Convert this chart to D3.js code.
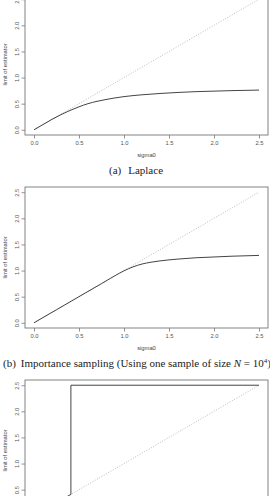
<!DOCTYPE html>
<html>
<head>
<meta charset="utf-8">
<script src="https://cdn.jsdelivr.net/npm/d3@7"></script>
<style>
body{margin:0;background:#fff;}
svg{display:block;}
.tick-label{font-family:"Liberation Sans",Arial,sans-serif;font-size:5.8px;fill:#555;}
.axis-title{font-family:"Liberation Sans",Arial,sans-serif;font-size:5.8px;fill:#444;}
.caption{font-family:"Liberation Serif","DejaVu Serif",serif;font-size:11px;fill:#222;}
</style>
</head>
<body>
<svg id="figure"></svg>
<script>
// ---- data ----
var xTicks=[0,0.5,1,1.5,2,2.5]
var yTicks=[0,0.5,1,1.5,2,2.5]
var diagX=[0,2.5]
var diagY=[0,2.5]

// (a) Laplace
var laplaceX=[0,0.1,0.2,0.3,0.4,0.5,0.6,0.7,0.8,0.9,1.0,1.2,1.4,1.6,1.8,2.0,2.2,2.5]
var laplaceY=[0,0.1,0.2,0.29,0.37,0.44,0.5,0.545,0.58,0.61,0.635,0.67,0.695,0.715,0.73,0.74,0.75,0.76]

// (b) importance sampling
var isX=[0,0.25,0.5,0.75,0.95,1.0,1.05,1.1,1.2,1.3,1.4,1.6,1.8,2.0,2.2,2.5]
var isY=[0,0.25,0.5,0.75,0.95,0.995,1.035,1.07,1.125,1.16,1.185,1.22,1.245,1.26,1.275,1.29]

// (c) third estimator (jumps up)
var stepX=[0,0.41,0.41,2.5]
var stepY=[0,0.41,2.5,2.5]

var captionA=["(a)","Laplace"]
var captionB="Importance sampling (Using one sample of size "

// ---- layout ----
var screen={width:270,height:496}
var box={left:25,width:243,height:141}
var panelTops=[-6,187,380]

var svg=d3.select("#figure")
    .attr("width",screen.width)
    .attr("height",screen.height)

var xScale=d3.scaleLinear()
    .domain([-0.1,2.6])
    .range([0,box.width])
var yScale=d3.scaleLinear()
    .domain([-0.1,2.6])
    .range([box.height,0])

var toPairs=function(xs,ys){
    return xs.map(function(x,i){return [x,ys[i]]})
}

var drawPanel=function(top,curve,curveType){
    var g=svg.append("g")
        .attr("transform","translate("+box.left+","+top+")")

    // frame
    g.append("rect")
        .attr("x",0).attr("y",0)
        .attr("width",box.width).attr("height",box.height)
        .attr("fill","none")
        .attr("stroke","#777")
        .attr("stroke-width",0.9)

    // axes: ticks only, labels styled like R
    var xAxis=d3.axisBottom(xScale)
        .tickValues(xTicks)
        .tickSize(3.5)
        .tickPadding(2.5)
        .tickFormat(d3.format(".1f"))
    var ax=g.append("g")
        .attr("transform","translate(0,"+box.height+")")
        .call(xAxis)
    ax.select(".domain").remove()
    ax.selectAll("line").attr("stroke","#777").attr("stroke-width",0.8)
    ax.selectAll("text").attr("class","tick-label").attr("font-size",null).attr("font-family",null).attr("fill",null)

    var yAxis=d3.axisLeft(yScale)
        .tickValues(yTicks)
        .tickSize(3.5)
        .tickFormat(d3.format(".1f"))
    var ay=g.append("g").call(yAxis)
    ay.select(".domain").remove()
    ay.selectAll("line").attr("stroke","#777").attr("stroke-width",0.8)
    ay.selectAll("text")
        .attr("class","tick-label")
        .attr("font-size",null).attr("font-family",null).attr("fill",null)
        .attr("x",null).attr("dy",null)
        .attr("text-anchor","middle")
        .attr("transform","translate(-6.5,0) rotate(-90)")

    // titles
    g.append("text")
        .attr("class","axis-title")
        .attr("text-anchor","middle")
        .attr("x",xScale(1.25))
        .attr("y",box.height+22)
        .text("sigma0")
    g.append("text")
        .attr("class","axis-title")
        .attr("text-anchor","middle")
        .attr("transform","translate(-18,"+(box.height/2)+") rotate(-90)")
        .text("limit of estimator")

    // reference diagonal
    var straight=d3.line()
        .x(function(d){return xScale(d[0])})
        .y(function(d){return yScale(d[1])})
    g.append("path")
        .datum(toPairs(diagX,diagY))
        .attr("d",straight)
        .attr("fill","none")
        .attr("stroke","#aaa")
        .attr("stroke-width",0.8)
        .attr("stroke-dasharray","1,1.6")

    // estimator
    var gen=d3.line()
        .x(function(d){return xScale(d[0])})
        .y(function(d){return yScale(d[1])})
        .curve(curveType=="smooth" ? d3.curveMonotoneX : d3.curveLinear)
    g.append("path")
        .datum(curve)
        .attr("d",gen)
        .attr("fill","none")
        .attr("stroke","#3a3a3a")
        .attr("stroke-width",0.95)
}

drawPanel(panelTops[0],toPairs(laplaceX,laplaceY),"smooth")
drawPanel(panelTops[1],toPairs(isX,isY),"smooth")
drawPanel(panelTops[2],toPairs(stepX,stepY),"step")

// captions
var capA=svg.append("text")
    .attr("class","caption")
    .attr("text-anchor","middle")
    .attr("x",136)
    .attr("y",panelTops[0]+box.height+39)
capA.append("tspan").text(captionA[0])
capA.append("tspan").attr("dx",7).text(captionA[1])

var capB=svg.append("text")
    .attr("class","caption")
    .attr("x",3)
    .attr("y",panelTops[1]+box.height+39)
capB.append("tspan").text("(b)")
capB.append("tspan").attr("dx",5).text(captionB)
capB.append("tspan").attr("font-style","italic").text("N")
capB.append("tspan").text(" = 10")
capB.append("tspan").attr("font-size","7px").attr("dy",-4).text("4")
capB.append("tspan").attr("dy",4).text(")")
</script>
</body>
</html>
